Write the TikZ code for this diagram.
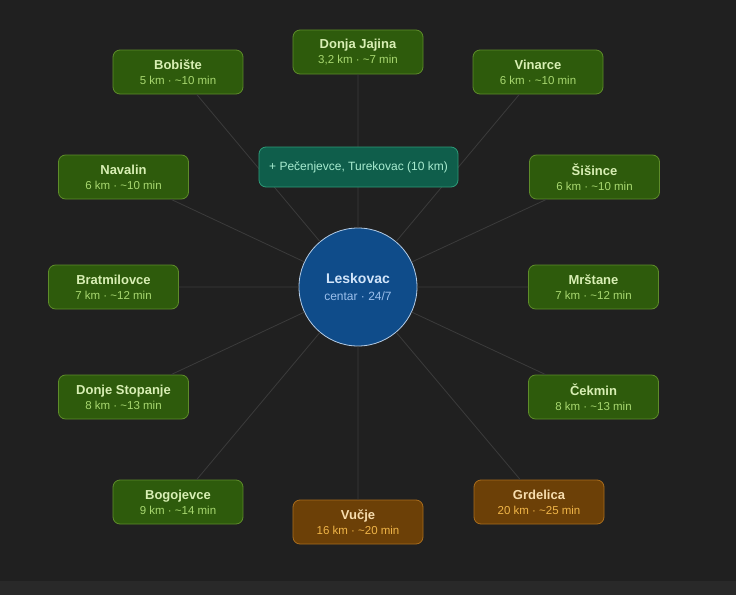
\documentclass[tikz,border=0pt]{standalone}
\usepackage{fontspec}
\setmainfont{Liberation Sans}
\usetikzlibrary{calc}
\definecolor{canvas}{HTML}{202020}
\definecolor{strip}{HTML}{292929}
\definecolor{spokegray}{HTML}{3B3B3B}
\definecolor{leaf}{HTML}{2E5B0C}
\definecolor{leafrim}{HTML}{5E8C2A}
\definecolor{leafhead}{HTML}{D8EFB4}
\definecolor{leafsub}{HTML}{A8D870}
\definecolor{amber}{HTML}{6C4007}
\definecolor{amberrim}{HTML}{A86C1C}
\definecolor{amberhead}{HTML}{F7DDAE}
\definecolor{ambersub}{HTML}{F0B548}
\definecolor{mint}{HTML}{0F5E4B}
\definecolor{mintrim}{HTML}{2E9A78}
\definecolor{minttext}{HTML}{A8ECD0}
\definecolor{hubblue}{HTML}{0F4C8A}
\definecolor{hubrim}{HTML}{B4CCE6}
\definecolor{hubhead}{HTML}{D2E5FA}
\definecolor{hubsub}{HTML}{9CC0EC}
\newcommand\dist[2][leafsub]{\\[1pt]{\color{#1}\mdseries\fontsize{11.5}{12}\selectfont #2}}
\tikzset{
  town/.style={rounded corners=7pt,fill=leaf,draw=leafrim,text=leafhead,line width=0.8pt,
    minimum width=130pt,minimum height=44pt,inner sep=0pt,align=center,
    font=\bfseries\fontsize{13}{14}\selectfont},
  fartown/.style={town,fill=amber,draw=amberrim,text=amberhead},
  spoke/.style={draw=spokegray,line width=0.8pt}
}

\begin{document}
\begin{tikzpicture}[x=1pt,y=1pt]
\fill[canvas] (-358,287) rectangle (378,-308);
\fill[strip] (-358,-294) rectangle (378,-308);
\node[circle,fill=hubblue,draw=hubrim,line width=0.8pt,minimum size=118pt,inner sep=0pt,align=center,
  text=hubhead,font=\bfseries\fontsize{14}{16}\selectfont]
  (hub) at (0,0) {Leskovac\\[1pt]{\color{hubsub}\mdseries\fontsize{12}{13}\selectfont centar · 24/7}};
\node[town] (jaj) at ($(hub)+(0,235)$) {Donja Jajina\dist{3,2 km · \textasciitilde7 min}};
\node[town] (bob) at ($(hub)+(-180,215)$) {Bobište\dist{5 km · \textasciitilde10 min}};
\node[town] (vin) at ($(hub)+(180,215)$) {Vinarce\dist{6 km · \textasciitilde10 min}};
\node[town] (nav) at ($(hub)+(-234.5,110)$) {Navalin\dist{6 km · \textasciitilde10 min}};
\node[town] (sis) at ($(hub)+(236.5,110)$) {Šišince\dist{6 km · \textasciitilde10 min}};
\node[town] (bra) at ($(hub)+(-244.5,0)$) {Bratmilovce\dist{7 km · \textasciitilde12 min}};
\node[town] (mrs) at ($(hub)+(235.5,0)$) {Mrštane\dist{7 km · \textasciitilde12 min}};
\node[town] (sto) at ($(hub)+(-234.5,-110)$) {Donje Stopanje\dist{8 km · \textasciitilde13 min}};
\node[town] (cek) at ($(hub)+(235.5,-110)$) {Čekmin\dist{8 km · \textasciitilde13 min}};
\node[town] (bog) at ($(hub)+(-180,-215)$) {Bogojevce\dist{9 km · \textasciitilde14 min}};
\node[fartown] (vuc) at ($(hub)+(0,-235)$) {Vučje\dist[ambersub]{16 km · \textasciitilde20 min}};
\node[fartown] (grd) at ($(hub)+(181,-215)$) {Grdelica\dist[ambersub]{20 km · \textasciitilde25 min}};
\draw[spoke] (hub) -- (jaj) (hub) -- (bob) (hub) -- (vin) (hub) -- (nav) (hub) -- (sis) (hub) -- (bra)
  (hub) -- (mrs) (hub) -- (sto) (hub) -- (cek) (hub) -- (bog) (hub) -- (vuc) (hub) -- (grd);
% extra villages sit over the spokes
\node[rounded corners=7pt,fill=mint,draw=mintrim,line width=0.8pt,text=minttext,minimum width=199pt,
  minimum height=40pt,inner sep=0pt,font=\fontsize{12}{14}\selectfont]
  (ext) at ($(hub)+(0.5,120)$) {+ Pečenjevce, Turekovac (10 km)};
\end{tikzpicture}
\end{document}
